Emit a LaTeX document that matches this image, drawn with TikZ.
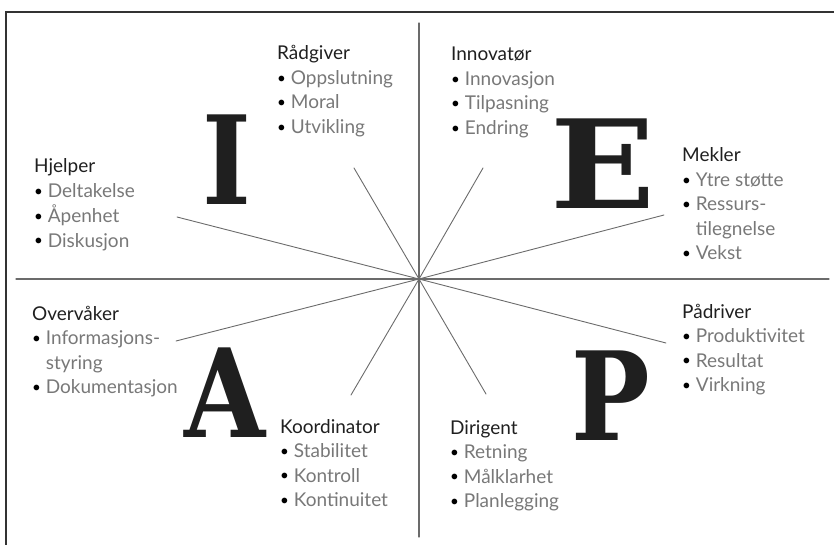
\documentclass[tikz,border=0pt]{standalone}
\usepackage{fontspec}
\usetikzlibrary{positioning}
\newfontfamily\rollefont{Lato}
\newfontfamily\bokstavfont{DejaVu Serif}
\definecolor{linjegraa}{gray}{0.42}
\definecolor{punktgraa}{gray}{0.47}
\definecolor{tittelsort}{gray}{0.12}
% punkt i lista, og fortsettelse av et delt ord
\newcommand{\prikk}{\raisebox{0.12ex}{\scalebox{0.8}{\textbullet}}}
\newcommand{\pkt}[1]{\textcolor{black}{\prikk}~\textcolor{punktgraa}{#1}}
\newcommand{\forts}[1]{\phantom{\prikk~}\textcolor{punktgraa}{#1}}
\newcommand{\rolle}[4]{
    \node[rolle] (#1) at (#2) {\begin{tabular}[t]{@{}l@{}}\textcolor{tittelsort}{#3}\\#4\end{tabular}};
}
\newcommand{\bokstav}[4]{
    \node[bokstav] (#1) at (#2) {\scalebox{#4}[1]{#3}};
}

\begin{document}
\begin{tikzpicture}[x=1pt,y=-1pt,line cap=round,
    rolle/.style={anchor=base west,inner sep=0pt,
        font=\rollefont\fontsize{19}{24.5}\selectfont},
    bokstav/.style={anchor=base,inner sep=0pt,text=tittelsort,
        font=\bokstavfont\bfseries\fontsize{123}{123}\selectfont},
    akse/.style={draw=linjegraa,line width=1.1pt}]

        \useasboundingbox (0,0) rectangle (834,545);

        % --- Ramme ---
        \draw[line width=1.2pt,black!80] (6,545) -- (6,12) -- (834,12);

        % --- Akser og eiker ---
        \coordinate (c) at (419,279);
        \coordinate (nord) at (419,23);
        \coordinate (sor) at (419,537);
        \coordinate (vest) at (16,279);
        \coordinate (ost) at (829,279);
        \draw[akse] (nord) -- (sor);
        \draw[akse] (vest) -- (ost);

        \coordinate (eHjelper) at (177,217);
        \coordinate (eRaadgiver) at (354,168);
        \coordinate (eInnovator) at (483,168);
        \coordinate (eMekler) at (664,215);
        \coordinate (eOvervaker) at (176,341);
        \coordinate (eKoordinator) at (351,395);
        \coordinate (ePaadriver) at (666,343);
        \coordinate (eDirigent) at (486,394);
        \foreach \e in {eHjelper,eRaadgiver,eInnovator,eMekler,
                        eOvervaker,eKoordinator,ePaadriver,eDirigent}
            \draw[akse,line width=0.9pt] (c) -- (\e);

        % --- Store bokstaver ---
        \bokstav{bI}{227,205}{I}{0.85}
        \bokstav{bE}{603,208}{E}{1.12}
        \bokstav{bA}{225,437}{A}{0.85}
        \bokstav{bP}{611,440}{P}{0.85}

        % --- Roller ---
        \rolle{raadgiver}{277,60}{Rådgiver}{\pkt{Oppslutning}\\\pkt{Moral}\\\pkt{Utvikling}}
        \rolle{hjelper}{34,173}{Hjelper}{\pkt{Deltakelse}\\\pkt{Åpenhet}\\\pkt{Diskusjon}}
        \rolle{innovator}{451,61}{Innovatør}{\pkt{Innovasjon}\\\pkt{Tilpasning}\\\pkt{Endring}}
        \rolle{mekler}{682,162}{Mekler}{\pkt{Ytre støtte}\\\pkt{Ressurs-}\\\forts{tilegnelse}\\\pkt{Vekst}}
        \rolle{overvaker}{32,320}{Overvåker}{\pkt{Informasjons-}\\\forts{styring}\\\pkt{Dokumentasjon}}
        \rolle{koordinator}{280,433}{Koordinator}{\pkt{Stabilitet}\\\pkt{Kontroll}\\\pkt{Kontinuitet}}
        \rolle{paadriver}{682,318}{Pådriver}{\pkt{Produktivitet}\\\pkt{Resultat}\\\pkt{Virkning}}
        \rolle{dirigent}{450,434}{Dirigent}{\pkt{Retning}\\\pkt{Målklarhet}\\\pkt{Planlegging}}

    \end{tikzpicture}
\end{document}
